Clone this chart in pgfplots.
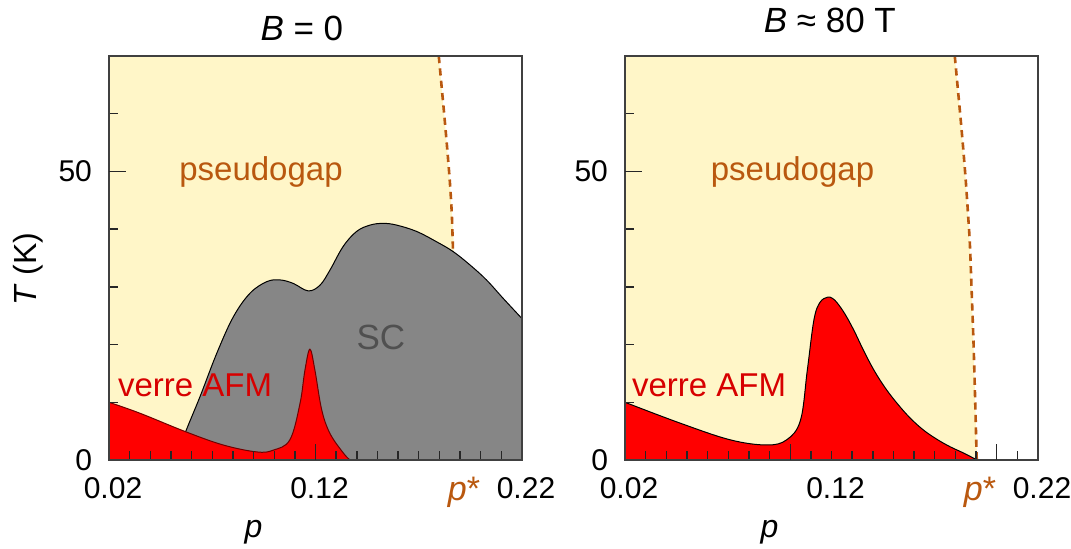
\documentclass[border=0pt]{standalone}
\usepackage{fontspec}
\setmainfont{Liberation Sans}
\usepackage{pgfplots}
\pgfplotsset{compat=1.18}

\definecolor{pgyellow}{RGB}{255,246,200}
\definecolor{pgbrown}{RGB}{185,88,15}
\definecolor{scgray}{RGB}{134,134,134}
\definecolor{afmred}{RGB}{255,0,0}
\definecolor{afmtext}{RGB}{215,0,0}
\definecolor{sctext}{RGB}{80,80,80}

% pseudogap boundary T*(p), shared by both panels
\pgfplotstableread{
p      T
0.1797 70
0.1810 65
0.1823 60
0.1837 54.3
0.1850 48.5
0.1861 42.7
0.1870 37.5
0.1878 30
0.1888 20
0.1896 10
0.1903 0.5
0.1905 0
}\pgline

\pgfplotsset{
  phase/.style={
    scale only axis, width=206.5pt, height=202pt,
    xmin=0.02, xmax=0.22, ymin=0, ymax=70,
    axis on top,
    axis line style={black!75, line width=0.7pt},
    tick align=inside, xtick pos=lower, ytick pos=left,
    tick style={black!85, line width=0.7pt},
    major tick length=0pt, minor tick length=4.5pt,
    xtick={0.02,0.12,0.19,0.22},
    xticklabels={0.02,0.12,{\textcolor{pgbrown}{\fontsize{17}{19}\selectfont\textit{p}*}},0.22},
    minor xtick={0.03,0.04,0.05,0.06,0.07,0.08,0.09,0.10,0.11,0.12,0.13,0.14,0.15,0.16,0.17,0.18,0.19,0.20,0.21},
    ytick={0,50}, yticklabels={0,50},
    minor ytick={10,20,30,40,60},
    extra y ticks={50}, extra y tick labels={},
    extra y tick style={major tick length=8.5pt},
    /pgf/number format/assume math mode=true,
    tick label style={font=\fontsize{15}{17}\selectfont},
    xticklabel style={yshift=-5pt, xshift=2pt},
    yticklabel style={xshift=-5pt},
    label style={font=\fontsize{16}{18}\selectfont},
    every axis title shift=0pt,
    title style={font=\fontsize{17.5}{20}\selectfont, anchor=center},
    xlabel={\textit{p}},
    xlabel style={at={(axis description cs:0.35,-0.18)}, anchor=center},
  },
  tstar/.style={pgbrown, line width=1.3pt, dash pattern=on 3.6pt off 2.6pt, smooth},
}

\begin{document}
\begin{tikzpicture}
\path[use as bounding box] (0,0) rectangle (535.5pt,274.5pt);

% ---------------- B = 0 ----------------
\begin{axis}[phase, at={(54.5pt,44.5pt)},
  extra x ticks={0.12}, extra x tick labels={},
  extra x tick style={major tick length=8pt},
  title={\textit{B} = 0},
  title style={at={(axis description cs:0.467,1.069)}},
  ylabel={\textit{T} (K)},
  ylabel style={at={(axis description cs:-0.196,0.473)}, anchor=center},
]
\addplot[fill=pgyellow, draw=none] coordinates {
  (0.02,70) (0.1797,70) (0.1810,65) (0.1823,60) (0.1837,54.3) (0.1850,48.5)
  (0.1861,42.7) (0.1870,37.5) (0.1878,30) (0.1888,20) (0.1896,10) (0.1905,0)
} \closedcycle;
\addplot[tstar] coordinates {
  (0.1797,70) (0.1810,65) (0.1823,60) (0.1837,54.3) (0.1850,48.5)
  (0.1860,42.7) (0.1866,36.1)
};
% superconducting dome
\addplot[fill=scgray, draw=black, line width=0.5pt, smooth, tension=0.6] coordinates {
  (0.052,0) (0.0571,4.9) (0.0641,11.0) (0.0722,18.5) (0.0802,24.8)
  (0.0883,28.9) (0.0964,30.9) (0.1028,31.2) (0.1092,30.6) (0.1165,29.3)
  (0.1222,30.3) (0.1270,32.9) (0.1334,37.0) (0.1399,39.6) (0.1464,40.7)
  (0.1528,41.0) (0.1593,40.7) (0.1690,39.6) (0.1787,37.8) (0.1867,36.1)
  (0.1948,33.8) (0.2028,31.2) (0.2109,28.0) (0.2200,24.5)
} \closedcycle;
% AFM glass
\addplot[fill=afmred, draw={rgb,255:red,110;green,0;blue,0}, line width=0.5pt, smooth, tension=0.6]
  coordinates {
  (0.02,10.0) (0.035,8.1) (0.0571,4.9) (0.0753,2.6) (0.0915,1.4) (0.0995,1.7)
  (0.1076,3.5) (0.1125,9.8) (0.1149,15.6) (0.1173,19.2) (0.1197,15.6)
  (0.1230,8.7) (0.1270,4.6) (0.1335,1.2) (0.1367,0)
} \closedcycle;
\node[text=pgbrown, font=\fontsize{16.5}{19}\selectfont] at (axis cs:0.0936,49.9) {pseudogap};
\node[text=sctext, font=\fontsize{17.5}{20}\selectfont] at (axis cs:0.1517,21.2) {SC};
\node[text=afmtext, font=\fontsize{16.5}{19}\selectfont] at (axis cs:0.0617,13.0) {verre AFM};
\end{axis}

% ---------------- B ~ 80 T ----------------
\begin{axis}[phase, at={(312.5pt,44.5pt)},
  extra x ticks={0.10,0.20}, extra x tick labels={},
  extra x tick style={major tick length=8pt},
  title={\textit{B} ≈ 80 T},
  title style={at={(axis description cs:0.496,1.089)}},
]
\addplot[fill=pgyellow, draw=none] coordinates {
  (0.02,70) (0.1797,70) (0.1810,65) (0.1823,60) (0.1837,54.3) (0.1850,48.5)
  (0.1861,42.7) (0.1870,37.5) (0.1878,30) (0.1888,20) (0.1896,10) (0.1905,0)
} \closedcycle;
\addplot[tstar] table[x=p, y=T] {\pgline};
\addplot[fill=afmred, draw=black, line width=0.5pt, smooth, tension=0.6]
  coordinates {
  (0.02,10.0) (0.0466,6.4) (0.0709,3.5) (0.0886,2.6) (0.0983,3.5) (0.105,6.9)
  (0.1083,15.6) (0.1115,24.3) (0.1144,27.3) (0.118,28.2) (0.1205,28.0)
  (0.1228,27.2) (0.1265,25.3) (0.1308,22.5) (0.1355,19.0) (0.1405,15.6)
  (0.1460,12.5) (0.1518,9.8) (0.1580,7.3) (0.1645,5.2) (0.1710,3.6)
  (0.1774,2.3) (0.1840,1.2) (0.1905,0)
} \closedcycle;
\node[text=pgbrown, font=\fontsize{16.5}{19}\selectfont] at (axis cs:0.1011,49.9) {pseudogap};
\node[text=afmtext, font=\fontsize{16.5}{19}\selectfont] at (axis cs:0.0607,13.0) {verre AFM};
\end{axis}
\end{tikzpicture}
\end{document}
